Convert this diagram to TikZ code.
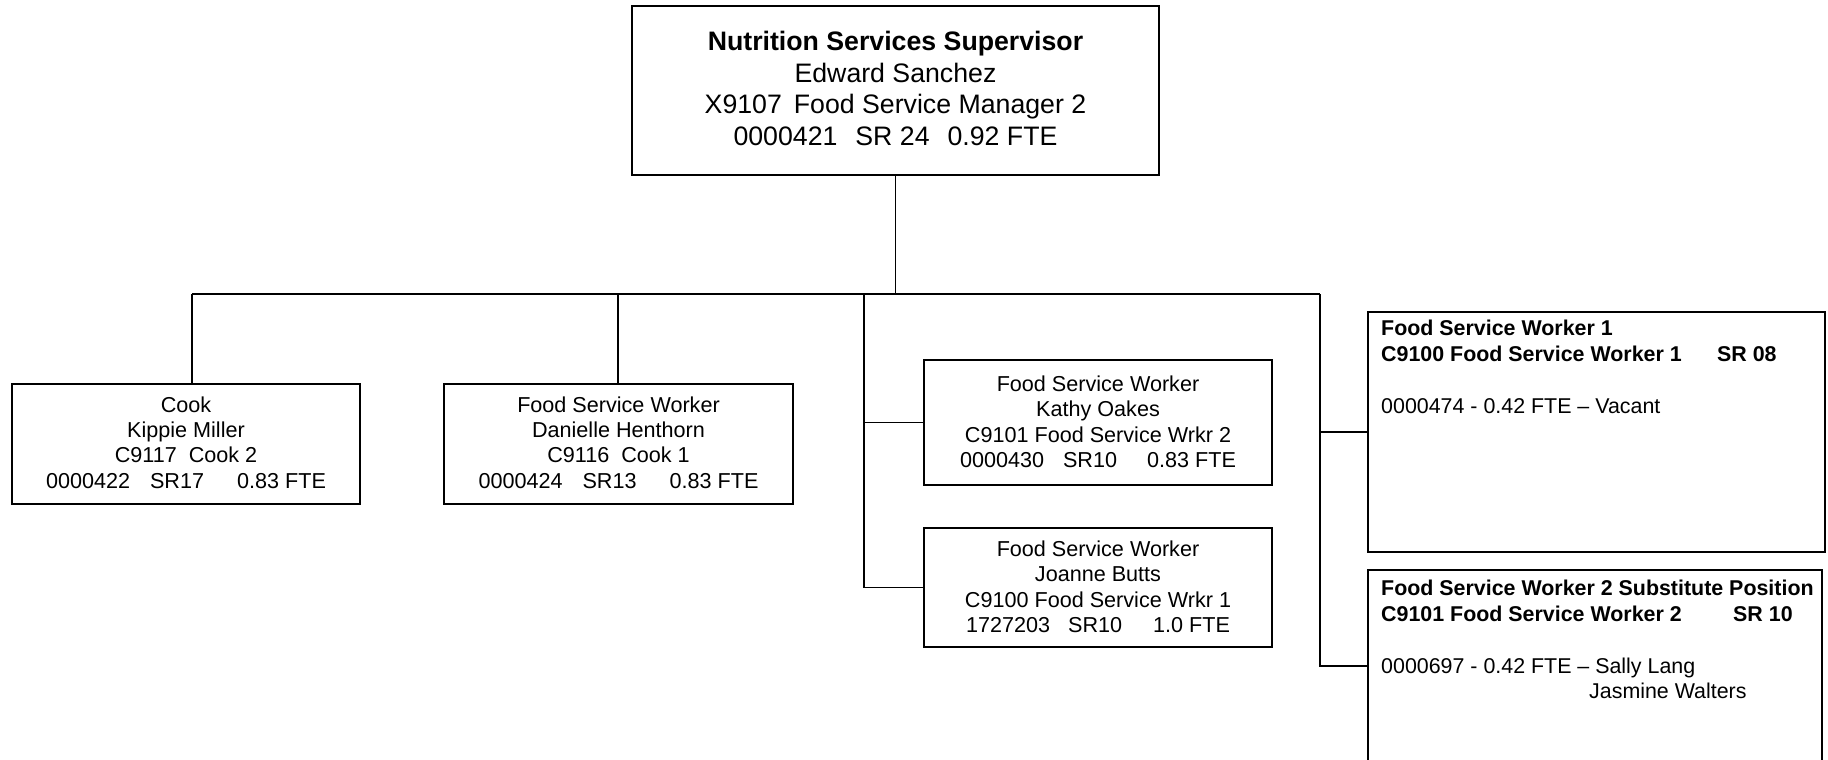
\documentclass[tikz,border=0pt]{standalone}
\usepackage{fontspec}
\setmainfont{Liberation Sans}
\begin{document}
\begin{tikzpicture}[x=1pt,y=-1pt,
  box/.style={draw, line width=1.9pt, rectangle, inner sep=0pt, align=center},
  conn/.style={line width=1.9pt},
  ctext/.style={font=\fontsize{21.6}{25.2}\selectfont},
  ltext/.style={anchor=north west, inner sep=0pt, align=left, font=\fontsize{21.4}{25.8}\selectfont}]
\path[use as bounding box, clip] (0,0) rectangle (1828,760);
\fill[white] (0,0) rectangle (1828,760);

% top
\node[box, minimum width=527pt, minimum height=169pt, font=\fontsize{26.7}{31.4}\selectfont] (sup) at (895.5,90.5)
  {\textbf{Nutrition Services Supervisor}\\Edward Sanchez\\X9107\hspace{12pt}Food Service Manager 2\\0000421\hspace{18pt}SR 24\hspace{18pt}0.92 FTE\rule[-4.5pt]{0pt}{0pt}};

% second row
\node[box, ctext, minimum width=348pt, minimum height=120pt] (cook) at (186,444)
  {Cook\\Kippie Miller\\C9117\hspace{12pt}Cook 2\\0000422\hspace{20pt}SR17\hspace{33pt}0.83 FTE\rule[-3pt]{0pt}{0pt}};
\node[box, ctext, minimum width=349pt, minimum height=120pt] (dan) at (618.5,444)
  {Food Service Worker\\Danielle Henthorn\\C9116\hspace{12pt}Cook 1\\0000424\hspace{20pt}SR13\hspace{33pt}0.83 FTE\rule[-3pt]{0pt}{0pt}};
\node[box, ctext, minimum width=348pt, minimum height=125pt] (kathy) at (1098,422.5)
  {Food Service Worker\\Kathy Oakes\\C9101 Food Service Wrkr 2\\0000430\hspace{19pt}SR10\hspace{30pt}0.83 FTE\rule[-1.5pt]{0pt}{0pt}};
\node[box, ctext, minimum width=348pt, minimum height=119pt] (joanne) at (1098,587.5)
  {Food Service Worker\\Joanne Butts\\C9100 Food Service Wrkr 1\\1727203\hspace{18pt}SR10\hspace{31pt}1.0 FTE\rule[-1.5pt]{0pt}{0pt}};

% right boxes
\node[box, minimum width=457pt, minimum height=240pt] (fsw1) at (1596.5,432) {};
\node[ltext] (fsw1t) at (1381,320)
  {\textbf{Food Service Worker 1}\\
   \textbf{\makebox[336pt][l]{C9100 Food Service Worker 1}SR 08}\\[25.8pt]
   0000474 - 0.42 FTE \textendash{} Vacant};
\node[box, minimum width=454pt, minimum height=240pt] (fsw2) at (1595,690) {};
\node[ltext] (fsw2t) at (1381,580)
  {\textbf{Food Service Worker 2 Substitute Position}\\
   \textbf{\makebox[352pt][l]{C9101 Food Service Worker 2}SR 10}\\[25.8pt]
   0000697 - 0.42 FTE \textendash{} Sally Lang\\
   \hspace*{208pt}Jasmine Walters};

% connectors
\coordinate (busL) at (192,294);
\coordinate (busR) at (1320,294);
\coordinate (busD) at (618,294);
\coordinate (busS) at (864,294);
\coordinate (f2in) at (1368,666);
\draw[conn] (sup.south) -- (sup.south |- busL);
\draw[conn] (busL) -- (busR);
\draw[conn] (busL) -- (busL |- cook.north);
\draw[conn] (busD) -- (busD |- dan.north);
\draw[conn] (busS) |- (kathy.west);
\draw[conn] (busS) |- (joanne.west);
\draw[conn] (busR) |- (fsw1.west);
\draw[conn] (busR) |- (f2in);
\end{tikzpicture}
\end{document}
